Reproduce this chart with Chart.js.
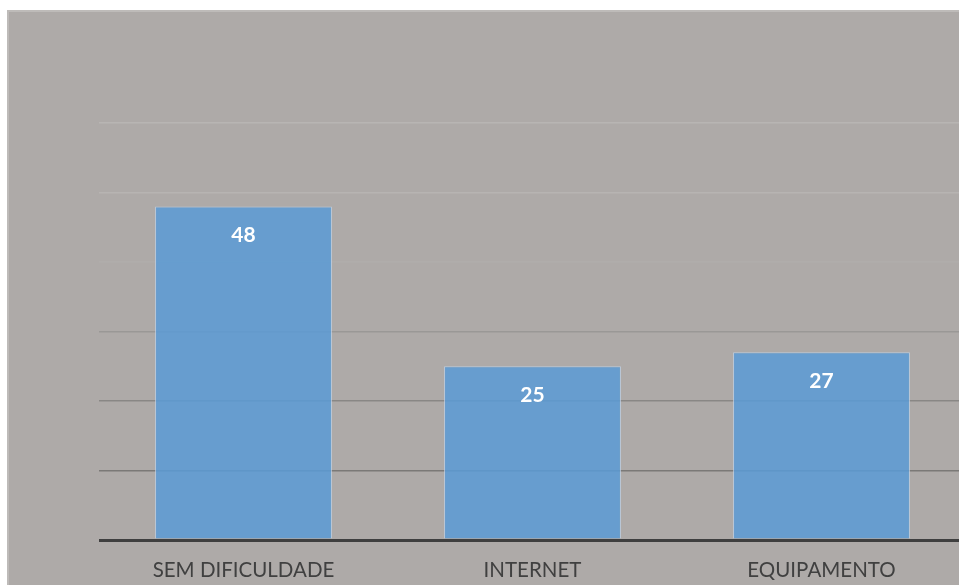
<!DOCTYPE html>
<html lang="pt">
<head>
  <meta charset="UTF-8" />
  <title>Dificuldades</title>
  <script src="https://cdn.jsdelivr.net/npm/chart.js"></script>
  <style>
    html, body { margin: 0; padding: 0; background: #ffffff; overflow: hidden; width: 959px; height: 585px; }
    #bg { position: absolute; left: 7px; top: 10px; width: 1000px; height: 600px;
          background: #aeaaa8; border-left: 2px solid #bebbb9; border-top: 2px solid #bebbb9; }
    #chart { position: absolute; left: 0; top: 0; }
  </style>
</head>
<body>
<div id="bg"></div>
<canvas id="chart" width="990" height="585"></canvas>

<script>
const categories = ['SEM DIFICULDADE', 'INTERNET', 'EQUIPAMENTO'];
const values = [48, 25, 27];
const yTicks = [0, 10, 20, 30, 40, 50, 60];

// grid colours go from light at the top to dark near the axis
const gridColors = {
  0: '#3f3f3f', 10: '#7b7977', 20: '#898785', 30: '#9a9896',
  40: '#b0adab', 50: '#b7b4b2', 60: '#b8b5b3'
};

const barLabels = {
  id: 'barLabels',
  afterDatasetsDraw(chart) {
    const ctx = chart.ctx;
    const meta = chart.getDatasetMeta(0);
    ctx.save();
    ctx.fillStyle = '#ffffff';
    ctx.font = 'bold 21px Lato, "Open Sans", sans-serif';
    ctx.textAlign = 'center';
    ctx.textBaseline = 'middle';
    meta.data.forEach((bar, i) => {
      ctx.fillText(values[i], bar.x, bar.y + 29);
    });
    ctx.restore();
  }
};

new Chart(document.getElementById('chart'), {
  type: 'bar',
  data: {
    labels: categories,
    datasets: [{
      data: values,
      backgroundColor: 'rgba(91,155,213,0.86)',
      borderColor: 'rgba(190,210,232,0.8)',
      borderWidth: 1,
      barPercentage: 1,
      categoryPercentage: 0.612
    }]
  },
  options: {
    responsive: false,
    animation: false,
    devicePixelRatio: 1,
    layout: { padding: { left: 99, top: 123, right: 24, bottom: 0 } },
    plugins: { legend: { display: false }, tooltip: { enabled: false } },
    scales: {
      x: {
        grid: { display: false, drawTicks: false },
        border: { display: false },
        ticks: { color: '#404040', font: { family: 'Lato, "Open Sans", sans-serif', size: 20.5 }, padding: 18, maxRotation: 0 },
        afterFit(scale) { scale.height = 45; }
      },
      y: {
        min: 0, max: 60,
        afterBuildTicks(scale) { scale.ticks = yTicks.map(v => ({ value: v })); },
        ticks: { display: false },
        border: { display: false },
        grid: {
          drawTicks: false,
          color: c => gridColors[c.tick.value],
          lineWidth: c => c.tick.value === 0 ? 3 : 1.5
        },
        afterFit(scale) { scale.width = 0; }
      }
    }
  },
  plugins: [barLabels]
});
</script>
</body>
</html>
